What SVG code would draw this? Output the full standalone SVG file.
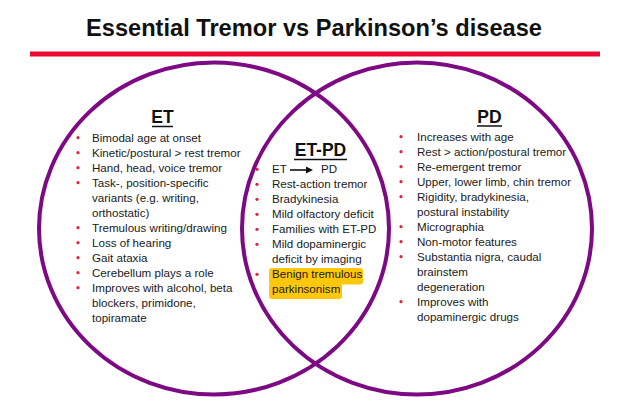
<svg xmlns="http://www.w3.org/2000/svg" width="630" height="411" viewBox="0 0 630 411">
<style>
.body{font-family:"Liberation Sans",Arial,sans-serif;font-size:11.6px;fill:#1a1a1a}
.head{font-family:"Liberation Sans",Arial,sans-serif;font-size:17.5px;font-weight:bold;fill:#111}
.ring{fill:none;stroke:#7d0a84;stroke-width:4}
.ul{stroke:#111;stroke-width:1.5}
.bul{fill:#e0243c}
.hl{fill:#fdc70c}
</style>
<rect width="630" height="411" fill="#fff"/>
<g id="title">
<text x="86" y="36" textLength="456" lengthAdjust="spacingAndGlyphs" font-family="'Liberation Sans',Arial,sans-serif" font-size="24" font-weight="bold" fill="#111">Essential Tremor vs Parkinson’s disease</text>
<rect x="30" y="51.5" width="570" height="5" fill="#ec0a35"/>
</g>
<g id="circle-et"><ellipse class="ring" cx="214" cy="228.5" rx="175" ry="166"/></g>
<g id="circle-pd"><ellipse class="ring" cx="417" cy="228.5" rx="175" ry="166"/></g>
<g id="node-et">
<text class="head" x="162.5" y="123" text-anchor="middle">ET</text>
<line class="ul" x1="152" y1="126.5" x2="173" y2="126.5"/>
<g class="bul">
<circle cx="78" cy="137.7" r="1.6"/><circle cx="78" cy="152.7" r="1.6"/><circle cx="78" cy="167.7" r="1.6"/><circle cx="78" cy="182.7" r="1.6"/><circle cx="78" cy="227.7" r="1.6"/><circle cx="78" cy="242.7" r="1.6"/><circle cx="78" cy="257.7" r="1.6"/><circle cx="78" cy="272.7" r="1.6"/><circle cx="78" cy="287.7" r="1.6"/>
</g>
<text class="body">
<tspan x="92" y="141.7">Bimodal age at onset</tspan>
<tspan x="92" y="156.7">Kinetic/postural &gt; rest tremor</tspan>
<tspan x="92" y="171.7">Hand, head, voice tremor</tspan>
<tspan x="92" y="186.7">Task-, position-specific</tspan>
<tspan x="92" y="201.7">variants (e.g. writing,</tspan>
<tspan x="92" y="216.7">orthostatic)</tspan>
<tspan x="92" y="231.7">Tremulous writing/drawing</tspan>
<tspan x="92" y="246.7">Loss of hearing</tspan>
<tspan x="92" y="261.7">Gait ataxia</tspan>
<tspan x="92" y="276.7">Cerebellum plays a role</tspan>
<tspan x="92" y="291.7">Improves with alcohol, beta</tspan>
<tspan x="92" y="306.7">blockers, primidone,</tspan>
<tspan x="92" y="321.7">topiramate</tspan>
</text>
</g>
<g id="node-etpd">
<text class="head" x="320.5" y="156" text-anchor="middle">ET-PD</text>
<line class="ul" x1="294" y1="159.5" x2="347" y2="159.5"/>
<rect class="hl" x="269" y="268" width="94" height="16.5" rx="3"/>
<rect class="hl" x="269" y="283" width="73" height="16" rx="3"/>
<g class="bul">
<circle cx="257" cy="169.3" r="1.6"/><circle cx="257" cy="184.3" r="1.6"/><circle cx="257" cy="199.3" r="1.6"/><circle cx="257" cy="214.3" r="1.6"/><circle cx="257" cy="229.3" r="1.6"/><circle cx="257" cy="244.3" r="1.6"/><circle cx="257" cy="274.3" r="1.6"/>
</g>
<line x1="290" y1="170" x2="308" y2="170" stroke="#111" stroke-width="1.6"/>
<polygon points="313,170 306,166.5 306,173.5" fill="#111"/>
<text class="body">
<tspan x="272" y="173.3">ET</tspan>
<tspan x="321" y="173.3">PD</tspan>
<tspan x="272" y="188.3">Rest-action tremor</tspan>
<tspan x="272" y="203.3">Bradykinesia</tspan>
<tspan x="272" y="218.3">Mild olfactory deficit</tspan>
<tspan x="272" y="233.3">Families with ET-PD</tspan>
<tspan x="272" y="248.3">Mild dopaminergic</tspan>
<tspan x="272" y="263.3">deficit by imaging</tspan>
<tspan x="272" y="278.3">Benign tremulous</tspan>
<tspan x="272" y="293.3">parkinsonism</tspan>
</text>
</g>
<g id="node-pd">
<text class="head" x="489.5" y="122.7" text-anchor="middle">PD</text>
<line class="ul" x1="477" y1="126" x2="502" y2="126"/>
<g class="bul">
<circle cx="401" cy="136.7" r="1.6"/><circle cx="401" cy="151.7" r="1.6"/><circle cx="401" cy="166.7" r="1.6"/><circle cx="401" cy="181.7" r="1.6"/><circle cx="401" cy="196.7" r="1.6"/><circle cx="401" cy="226.7" r="1.6"/><circle cx="401" cy="241.7" r="1.6"/><circle cx="401" cy="256.7" r="1.6"/><circle cx="401" cy="301.7" r="1.6"/>
</g>
<text class="body">
<tspan x="417" y="140.7">Increases with age</tspan>
<tspan x="417" y="155.7">Rest &gt; action/postural tremor</tspan>
<tspan x="417" y="170.7">Re-emergent tremor</tspan>
<tspan x="417" y="185.7">Upper, lower limb, chin tremor</tspan>
<tspan x="417" y="200.7">Rigidity, bradykinesia,</tspan>
<tspan x="417" y="215.7">postural instability</tspan>
<tspan x="417" y="230.7">Micrographia</tspan>
<tspan x="417" y="245.7">Non-motor features</tspan>
<tspan x="417" y="260.7">Substantia nigra, caudal</tspan>
<tspan x="417" y="275.7">brainstem</tspan>
<tspan x="417" y="290.7">degeneration</tspan>
<tspan x="417" y="305.7">Improves with</tspan>
<tspan x="417" y="320.7">dopaminergic drugs</tspan>
</text>
</g>
</svg>
